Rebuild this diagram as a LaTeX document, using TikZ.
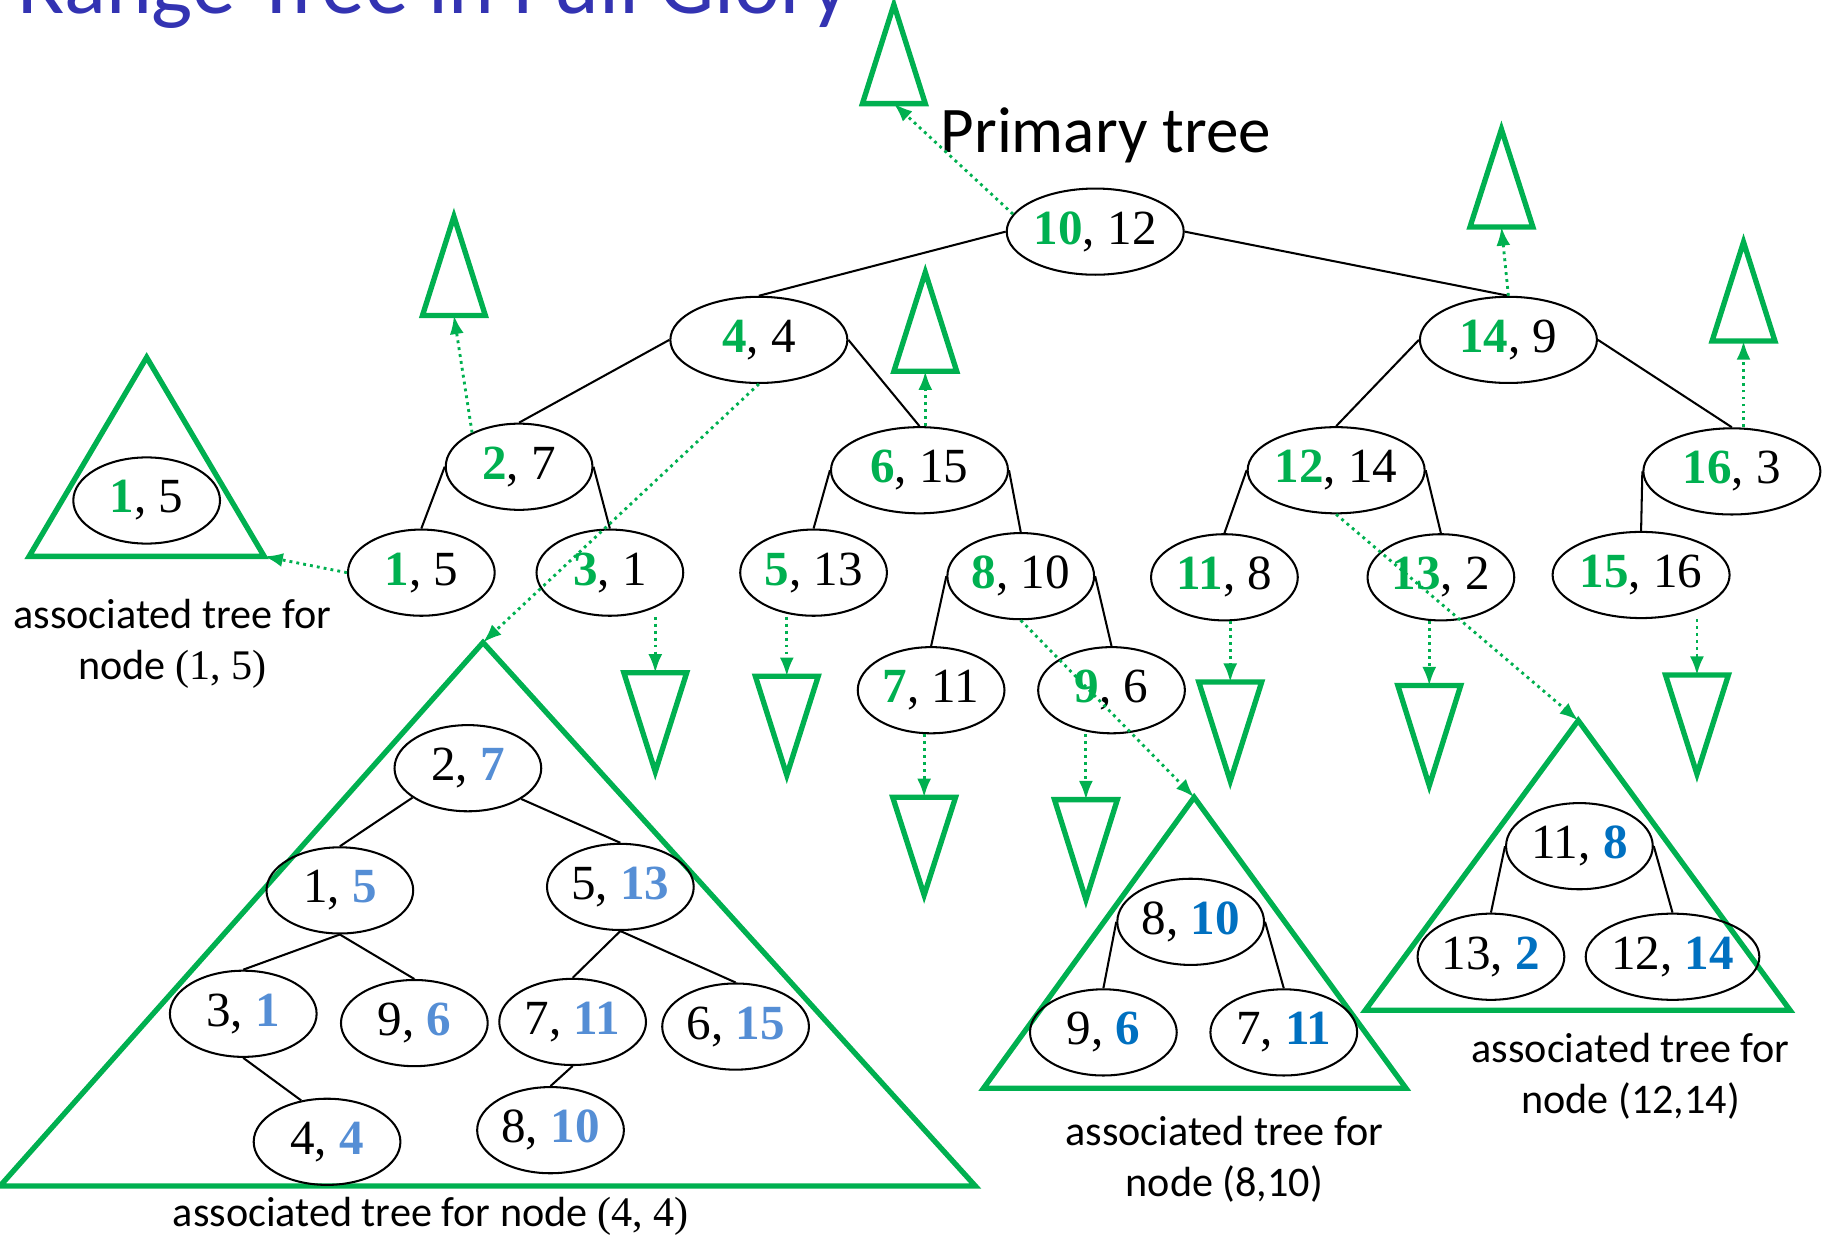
\documentclass[tikz,border=0pt]{standalone}
\usepackage{fontspec}
\setmainfont{Liberation Serif}
\newfontfamily\slidefont{Carlito}
\usetikzlibrary{shapes.geometric,arrows.meta}
\definecolor{keygreen}{HTML}{00B050}
\definecolor{keyblue}{HTML}{0070C0}
\definecolor{keybluelight}{HTML}{558ED5}
\definecolor{titleblue}{HTML}{3333B2}
\newcommand{\xkey}[1]{\textcolor{keygreen}{\textbf{#1}}}
\newcommand{\ykey}[1]{\textcolor{keyblue}{\textbf{#1}}}
\newcommand{\ykeylight}[1]{\textcolor{keybluelight}{\textbf{#1}}}

\begin{document}
\begin{tikzpicture}[x=0.01cm,y=-0.01cm,font=\fontsize{12}{14}\selectfont,
pnode/.style={ellipse,draw,line width=0.5pt,inner sep=0pt,minimum width=1.26cm,minimum height=0.74cm},
wnode/.style={pnode,minimum width=1.52cm},
branch/.style={line width=0.5pt},
tri/.style={draw=keygreen,line width=1.3pt},
assoc/.style={-{Latex[length=1.6mm,width=1.2mm]},keygreen,densely dotted,line width=0.7pt},
caption/.style={font=\slidefont\fontsize{10.3}{12.5}\selectfont,align=center}]
\useasboundingbox (0,0) rectangle (1568,1062);
\clip (0,0) rectangle (1568,1062);
\node[anchor=base west,inner sep=0pt,text=titleblue,font=\slidefont\fontsize{21.3}{25}\selectfont] (title) at (14,12) {Range Tree in Full Glory};
\node[anchor=base,font=\slidefont\fontsize{15.9}{19}\selectfont] (primary) at (950,131) {Primary tree};
% primary tree
\node[wnode] (p1012) at (941,199) {\xkey{10}, 12};
\node[wnode] (p44) at (652,292) {\xkey{4}, 4};
\node[wnode] (p149) at (1296,292) {\xkey{14}, 9};
\node[pnode] (p27) at (446,401) {\xkey{2}, 7};
\node[wnode] (p615) at (790,404) {\xkey{6}, 15};
\node[wnode] (p1214) at (1148,404) {\xkey{12}, 14};
\node[wnode] (p163) at (1488,405) {\xkey{16}, 3};
\node[pnode] (p15) at (362,492) {\xkey{1}, 5};
\node[pnode] (p31) at (524,492) {\xkey{3}, 1};
\node[pnode] (p513) at (699,492) {\xkey{5}, 13};
\node[pnode] (p810) at (877,495) {\xkey{8}, 10};
\node[pnode] (p118) at (1052,496) {\xkey{11}, 8};
\node[pnode] (p132) at (1238,496) {\xkey{13}, 2};
\node[wnode] (p1516) at (1410,494) {\xkey{15}, 16};
\node[pnode] (p711) at (800,593) {\xkey{7}, 11};
\node[pnode] (p96) at (955,593) {\xkey{9}, 6};
\draw[branch] (p1012.west) -- (p44.north);\draw[branch] (p1012.east) -- (p149.north);
\draw[branch] (p44.west) -- (p27.north);\draw[branch] (p44.east) -- (p615.north);
\draw[branch] (p149.west) -- (p1214.north);\draw[branch] (p149.east) -- (p163.north);
\draw[branch] (p27.west) -- (p15.north);\draw[branch] (p27.east) -- (p31.north);
\draw[branch] (p615.west) -- (p513.north);\draw[branch] (p615.east) -- (p810.north);
\draw[branch] (p1214.west) -- (p118.north);\draw[branch] (p1214.east) -- (p132.north);
\draw[branch] (p163.west) -- (p1516.north);
\draw[branch] (p810.west) -- (p711.north);\draw[branch] (p810.east) -- (p96.north);
% small associated trees
\coordinate (u1012) at (768,89);\coordinate (u27) at (390,271);\coordinate (u615) at (795,319);
\coordinate (u149) at (1290,195);\coordinate (u163) at (1498,293);
\coordinate (d31) at (563,578);\coordinate (d513) at (676,581);\coordinate (d711) at (794,685);
\coordinate (d96) at (933,687);\coordinate (d118) at (1057,586);\coordinate (d132) at (1228,589);
\coordinate (d1516) at (1458,580);
\draw[tri] (u1012) ++(-27,0) -- ++(27,-85) -- ++(27,85) -- cycle;
\draw[tri] (u27) ++(-27,0) -- ++(27,-85) -- ++(27,85) -- cycle;
\draw[tri] (u615) ++(-27,0) -- ++(27,-85) -- ++(27,85) -- cycle;
\draw[tri] (u149) ++(-27,0) -- ++(27,-84) -- ++(27,84) -- cycle;
\draw[tri] (u163) ++(-27,0) -- ++(27,-85) -- ++(27,85) -- cycle;
\draw[tri] (d31) ++(-27,0) -- ++(27,85) -- ++(27,-85) -- cycle;
\draw[tri] (d513) ++(-27,0) -- ++(27,85) -- ++(27,-85) -- cycle;
\draw[tri] (d711) ++(-27,0) -- ++(27,84) -- ++(27,-84) -- cycle;
\draw[tri] (d96) ++(-27,0) -- ++(27,86) -- ++(27,-86) -- cycle;
\draw[tri] (d118) ++(-27,0) -- ++(27,85) -- ++(27,-85) -- cycle;
\draw[tri] (d132) ++(-27,0) -- ++(27,86) -- ++(27,-86) -- cycle;
\draw[tri] (d1516) ++(-27,0) -- ++(27,85) -- ++(27,-85) -- cycle;
\draw[assoc] (p1012.168) -- (u1012);
\draw[assoc] (p27.144) -- (u27);
\draw[assoc] (p615.north -| u615) -- (u615);
\draw[assoc] (p149.north) -- (u149);
\draw[assoc] (p163.north -| u163) -- (u163);
\draw[assoc] (p31.south -| d31) -- (d31);
\draw[assoc] (p513.south -| d513) -- (d513);
\draw[assoc] (p711.south -| d711) -- (d711);
\draw[assoc] (p96.south -| d96) -- (d96);
\draw[assoc] (p118.south -| d118) -- (d118);
\draw[assoc] (p132.south -| d132) -- (d132);
\draw[assoc] (p1516.south -| d1516) -- (d1516);
% associated tree of (1,5)
\coordinate (a15top) at (126,307);\coordinate (a15l) at (25,478);\coordinate (a15r) at (227,478);
\draw[tri] (a15top) -- (a15l) -- (a15r) -- cycle;
\node[pnode] (q15) at (126,430) {\xkey{1}, 5};
\draw[assoc] (p15.west) -- (a15r);
\node[caption] (cap15) at (148,553) {associated tree for\\node {\rmfamily(1, 5)}};
% associated tree of (4,4)
\coordinate (a44top) at (415,552);\coordinate (a44l) at (0,1019);\coordinate (a44r) at (838,1019);
\draw[tri] (a44top) -- (a44l) -- (a44r) -- cycle;
\node[pnode] (t27) at (402,660) {2, \ykeylight{7}};
\node[pnode] (t15) at (292,765) {1, \ykeylight{5}};
\node[pnode] (t513) at (533,762) {5, \ykeylight{13}};
\node[pnode] (t31) at (209,871) {3, \ykeylight{1}};
\node[pnode] (t96) at (356,879) {9, \ykeylight{6}};
\node[pnode] (t711) at (492,878) {7, \ykeylight{11}};
\node[pnode] (t615) at (632,882) {6, \ykeylight{15}};
\node[pnode] (t44) at (281,981) {4, \ykeylight{4}};
\node[pnode] (t810) at (473,971) {8, \ykeylight{10}};
\draw[branch] (t27.208) -- (t15.north);\draw[branch] (t27.330) -- (t513.north);
\draw[branch] (t15.south) -- (t31.north);\draw[branch] (t15.south) -- (t96.north);
\draw[branch] (t513.south) -- (t711.north);\draw[branch] (t513.south) -- (t615.north);
\draw[branch] (t31.south) -- (t44.122);\draw[branch] (t711.south) -- (t810.north);
\draw[assoc] (p44.south) -- (a44top);
\node[caption,anchor=base] (cap44) at (370,1054) {associated tree for node {\rmfamily(4, 4)}};
% associated tree of (8,10)
\coordinate (a810top) at (1026,685);\coordinate (a810l) at (845,935);\coordinate (a810r) at (1208,935);
\draw[tri] (a810top) -- (a810l) -- (a810r) -- cycle;
\node[pnode] (s810) at (1023,792) {8, \ykey{10}};
\node[pnode] (s96) at (948,887) {9, \ykey{6}};
\node[pnode] (s711) at (1103,887) {7, \ykey{11}};
\draw[branch] (s810.west) -- (s96.north);\draw[branch] (s810.east) -- (s711.north);
\draw[assoc] (p810.south) -- (a810top);
\node[caption] (cap810) at (1052,996) {associated tree for\\node (8,10)};
% associated tree of (12,14)
\coordinate (a1214top) at (1356,619);\coordinate (a1214l) at (1173,868);\coordinate (a1214r) at (1538,868);
\draw[tri] (a1214top) -- (a1214l) -- (a1214r) -- cycle;
\node[pnode] (r118) at (1357,727) {11, \ykey{8}};
\node[pnode] (r132) at (1281,822) {13, \ykey{2}};
\node[pnode] (r1214) at (1437,822) {12, \ykey{14}};
\draw[branch] (r118.west) -- (r132.north);\draw[branch] (r118.east) -- (r1214.north);
\draw[assoc] (p1214.south) -- (a1214top);
\node[caption] (cap1214) at (1401,925) {associated tree for\\node (12,14)};
\end{tikzpicture}
\end{document}
